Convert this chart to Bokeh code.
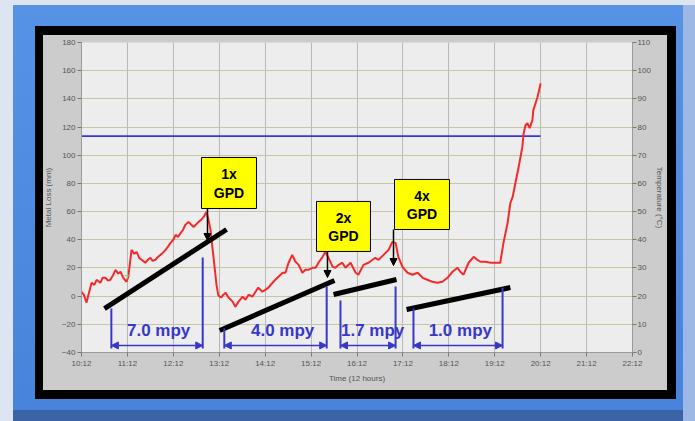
from bokeh.plotting import figure
from bokeh.models import (Range1d, LinearAxis, FixedTicker, BoxAnnotation, Label,
                          Arrow, NormalHead)
from bokeh.embed import file_html
from bokeh.resources import INLINE

# ---------------- data ----------------
hour_ticks = list(range(13))
hour_labels = ["10:12", "11:12", "12:12", "13:12", "14:12", "15:12", "16:12",
               "17:12", "18:12", "19:12", "20:12", "21:12", "22:12"]
metal_ticks = [-40, -20, 0, 20, 40, 60, 80, 100, 120, 140, 160, 180]
temp_ticks = [0, 10, 20, 30, 40, 50, 60, 70, 80, 90, 100, 110]

# hours since 10:12
red_time = [0.00, 0.05, 0.11, 0.16, 0.22, 0.28, 0.33, 0.41, 0.46, 0.52, 0.58, 0.63,
            0.69, 0.74, 0.80, 0.85, 0.91, 0.98, 1.02, 1.09, 1.15, 1.20, 1.26, 1.31,
            1.39, 1.45, 1.50, 1.55, 1.61, 1.67, 1.72, 1.78, 1.83, 1.88, 1.94, 2.00,
            2.05, 2.10, 2.16, 2.21, 2.26, 2.33, 2.38, 2.44, 2.50, 2.55, 2.60, 2.66,
            2.72, 2.76, 2.81, 2.85, 2.90, 2.94, 2.98, 3.04, 3.09, 3.14, 3.20, 3.29,
            3.35, 3.42, 3.51, 3.57, 3.64, 3.72, 3.79, 3.85, 3.94, 4.01, 4.07, 4.16,
            4.22, 4.29, 4.38, 4.44, 4.51, 4.59, 4.66, 4.73, 4.81, 4.88, 4.94, 5.03,
            5.10, 5.16, 5.25, 5.31, 5.38, 5.47, 5.53, 5.60, 5.68, 5.75, 5.86, 5.97,
            6.03, 6.14, 6.25, 6.34, 6.40, 6.47, 6.58, 6.69, 6.77, 6.84, 6.90, 6.99,
            7.10, 7.21, 7.32, 7.43, 7.53, 7.64, 7.75, 7.86, 7.97, 8.08, 8.19, 8.25,
            8.32, 8.43, 8.54, 8.62, 8.69, 8.80, 8.91, 9.02, 9.12, 9.19, 9.28, 9.34,
            9.39, 9.45, 9.52, 9.60, 9.63, 9.67, 9.71, 9.76, 9.82, 9.84, 9.93, 10.00]
red_metal = [3.0, 1.0, -4.6, 2.0, 9.5, 8.0, 11.6, 9.5, 13.0, 13.0, 11.0, 11.6,
             15.0, 18.7, 16.0, 17.3, 13.0, 10.2, 13.8, 32.9, 30.0, 31.4, 27.0, 25.8,
             23.7, 26.0, 27.2, 25.0, 25.8, 28.0, 29.3, 31.0, 32.9, 35.0, 37.8, 40.0,
             43.5, 42.0, 44.9, 47.0, 50.5, 52.7, 51.0, 49.1, 51.0, 52.7, 54.0, 56.2,
             59.7, 55.0, 47.0, 35.0, 20.0, 8.0, 0.5, -1.0, 1.0, 2.4, -1.0, -3.9,
             -7.5, -3.9, -0.4, -2.5, 1.0, -0.4, 3.1, 6.0, 3.1, 4.6, 6.0, 9.5,
             11.6, 13.8, 16.6, 16.6, 23.7, 29.3, 24.4, 22.2, 16.6, 18.7, 18.7, 20.1,
             20.1, 23.7, 27.9, 31.4, 27.2, 20.8, 20.1, 22.2, 23.7, 20.1, 23.7, 16.6,
             15.2, 22.2, 23.7, 25.8, 27.2, 25.8, 29.3, 32.9, 38.5, 37.8, 27.9, 20.8,
             16.6, 15.2, 16.6, 13.0, 11.6, 10.2, 9.5, 10.2, 13.0, 17.3, 20.1, 17.3,
             15.2, 23.7, 27.9, 25.8, 24.4, 24.4, 23.7, 23.7, 23.7, 37.8, 52.0, 66.1,
             70.4, 80.3, 91.6, 105.7, 115.6, 121.3, 122.7, 119.2, 124.9, 132.0, 141.1, 151.0]

temp_time = [0.0, 10.0]
temp_value = [76.8, 76.8]

# corrosion-rate trend lines (hours, metal loss)
slope_x0 = [0.50, 3.01, 5.49, 7.08]
slope_y0 = [-8.8, -24.4, 1.2, -9.5]
slope_x1 = [3.16, 5.51, 6.86, 9.34]
slope_y1 = [47.3, 11.1, 11.8, 6.1]

# rate brackets
rate_labels = ["7.0 mpy", "4.0 mpy", "1.7 mpy", "1.0 mpy"]
rate_left = [0.65, 3.11, 5.64, 7.23]
rate_left_top = [-8.8, -23.0, -3.1, -8.8]
rate_right = [2.64, 5.34, 6.84, 9.17]
rate_right_top = [27.4, 6.8, 6.8, 6.1]
rate_text_x = [1.68, 4.38, 6.34, 8.25]
rate_bottom = -37.2
rate_arrow_y = -35.0
rate_text_y = -24.4

# GPD call-outs
gpd_labels = ["1x", "2x", "4x"]
gpd_left = [2.613, 5.118, 6.817]
gpd_right = [3.811, 6.294, 8.014]
gpd_top = [98.4, 67.2, 82.8]
gpd_bottom = [62.2, 31.7, 47.3]
gpd_arrow_x = [2.744, 5.357, 6.795]
gpd_arrow_tip = [39.5, 13.2, 21.7]

# ---------------- figure ----------------
FONT = "Liberation Sans"
BLUE_TXT = "#3838c8"

p = figure(width=695, height=421, x_range=Range1d(0, 12), y_range=Range1d(-40, 180),
           output_backend="svg", toolbar_location=None,
           min_border_left=81, min_border_right=63, min_border_top=42, min_border_bottom=69)
p.extra_y_ranges = {"temp": Range1d(0, 110)}
p.border_fill_color = None
p.background_fill_color = "#ededed"
p.outline_line_color = None


def rect(color, x, y, w, h):
    return f"linear-gradient({color},{color}) {x} {y} / {w} {h} no-repeat"


p.styles = {"background": ", ".join([
    rect("#cccccc", "43px", "35px", "624px", "355px"),        # grey chart panel
    rect("#000000", "35px", "26px", "641px", "373px"),        # black frame
    rect("#dde5f2", "0px", "0px", "13px", "100%"),            # left page background
    rect("#dde5f2", "0px", "0px", "100%", "5px"),             # top page background
    rect("#9db8e4", "683px", "0px", "12px", "100%"),          # right light edge
    rect("#3c63a6", "0px", "410px", "100%", "11px"),          # bottom shadow
    "linear-gradient(#5693e6, #4783da) 0 0 / 100% 100% no-repeat",  # blue window
])}

# axes
p.xaxis.ticker = FixedTicker(ticks=hour_ticks)
p.xaxis.major_label_overrides = {t: l for t, l in zip(hour_ticks, hour_labels)}
p.xaxis.axis_label = "Time (12 hours)"
p.yaxis.ticker = FixedTicker(ticks=metal_ticks)
p.yaxis.axis_label = "Metal Loss (mm)"

rax = LinearAxis(y_range_name="temp", ticker=FixedTicker(ticks=temp_ticks),
                 axis_label="Temperature (°C)")
p.add_layout(rax, "right")

for ax in [p.xaxis[0], p.yaxis[0], rax]:
    ax.major_label_text_font = FONT
    ax.major_label_text_font_size = "8px"
    ax.major_label_text_color = "#555555"
    ax.axis_label_text_font = FONT
    ax.axis_label_text_font_size = "8px"
    ax.axis_label_text_font_style = "normal"
    ax.axis_label_text_color = "#555555"
    ax.axis_line_color = "#9a9a9a"
    ax.major_tick_line_color = "#777777"
    ax.major_tick_in = 0
    ax.major_tick_out = 4
    ax.minor_tick_line_color = None
    ax.major_label_standoff = 2
    ax.axis_label_standoff = 6
p.xaxis[0].axis_label_standoff = 3
rax.major_label_standoff = 1
rax.axis_label_standoff = 1

p.xgrid.grid_line_color = "#b9b9b4"
p.ygrid.grid_line_color = "#c6c6a4"
p.xgrid.ticker = FixedTicker(ticks=hour_ticks)
p.ygrid.ticker = FixedTicker(ticks=metal_ticks)

# data lines
p.line(temp_time, temp_value, y_range_name="temp", line_color="#3434ee", line_width=1.8)
p.line(red_time, red_metal, line_color="#f42a2a", line_width=2)
p.scatter([1.0], [14.6], marker="cross", size=6, line_color="#7ccf7c")

# trend lines
p.segment(slope_x0, slope_y0, slope_x1, slope_y1, line_color="black", line_width=5)

# rate brackets
p.segment(rate_left, rate_left_top, rate_left, [rate_bottom] * 4,
          line_color=BLUE_TXT, line_width=2)
p.segment(rate_right, rate_right_top, rate_right, [rate_bottom] * 4,
          line_color=BLUE_TXT, line_width=2)
for xl, xr, xt, lab in zip(rate_left, rate_right, rate_text_x, rate_labels):
    p.add_layout(Arrow(x_start=xl, y_start=rate_arrow_y, x_end=xr, y_end=rate_arrow_y,
                       line_color=BLUE_TXT, line_width=1.5,
                       start=NormalHead(size=7, fill_color=BLUE_TXT, line_color=BLUE_TXT),
                       end=NormalHead(size=7, fill_color=BLUE_TXT, line_color=BLUE_TXT)))
    p.add_layout(Label(x=xt, y=rate_text_y, text=lab, text_font=FONT,
                       text_font_size="17px", text_font_style="bold",
                       text_color=BLUE_TXT, text_align="center", text_baseline="middle"))

# GPD call-outs
for lab, l, r, t, b, ax_, tip in zip(gpd_labels, gpd_left, gpd_right, gpd_top, gpd_bottom,
                                     gpd_arrow_x, gpd_arrow_tip):
    p.add_layout(BoxAnnotation(left=l, right=r, top=t, bottom=b, fill_color="#ffff00",
                               fill_alpha=1, line_color="black", line_width=1, line_alpha=1))
    p.add_layout(Arrow(x_start=ax_, y_start=b, x_end=ax_, y_end=tip, line_color="black",
                       line_width=1.5,
                       end=NormalHead(size=7, fill_color="black", line_color="black")))
    cx = (l + r) / 2
    h = t - b
    p.add_layout(Label(x=cx, y=t - h * 0.33, text=lab, text_font=FONT, text_font_size="14px",
                       text_font_style="bold", text_color="black", text_align="center",
                       text_baseline="middle"))
    p.add_layout(Label(x=cx, y=t - h * 0.70, text="GPD", text_font=FONT, text_font_size="14px",
                       text_font_style="bold", text_color="black", text_align="center",
                       text_baseline="middle"))

open("out.html", "w").write(file_html(p, INLINE))
